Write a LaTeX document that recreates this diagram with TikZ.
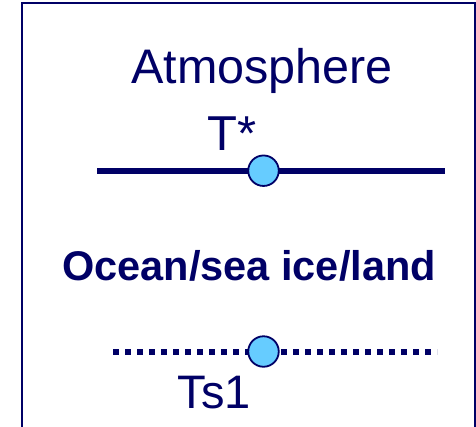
\documentclass[tikz,border=0pt]{standalone}
\usepackage{fontspec}
\setmainfont{Liberation Sans}
\definecolor{navy}{HTML}{000066}
\definecolor{ballblue}{HTML}{66CCFF}
\begin{document}
\begin{tikzpicture}[x=1pt,y=-1pt,
  lbl/.style={anchor=base west,inner sep=0pt,text=navy,font=\fontsize{48}{50}\selectfont},
  ball/.style={circle,draw=navy,line width=1.8pt,fill=ballblue,minimum size=30.5pt,inner sep=0pt},
  levelline/.style={draw=navy,line width=6.3pt}]
\useasboundingbox (0,0) rectangle (476,426);
\fill[white] (0,0) rectangle (476,426);
\draw[navy,line width=2pt] (22,430) -- (22,3) -- (475,3) -- (475,430);
\node[lbl,font=\fontsize{48.5}{50}\selectfont] (atm) at (131,83) {Atmosphere};
\node[lbl,font=\fontsize{49}{50}\selectfont] (tstar) at (207.5,150) {T*};
\node[lbl,font=\fontsize{41.5}{45}\bfseries\selectfont] (ocean) at (62,280) {Ocean/sea ice/land};
\node[lbl,font=\fontsize{47}{48}\selectfont] (ts) at (177.5,408) {Ts1};
\coordinate (a1) at (97,171);
\coordinate (a2) at (445,171);
\coordinate (b1) at (113,351.5);
\coordinate (b2) at (437,351.5);
\draw[levelline] (a1) -- (a2);
\draw[levelline,line width=6pt,dash pattern=on 6pt off 6pt] (b1) -- (b2);
\node[ball] (c1) at (263.5,170.7) {};
\node[ball] (c2) at (263.5,351.5) {};
\end{tikzpicture}
\end{document}
